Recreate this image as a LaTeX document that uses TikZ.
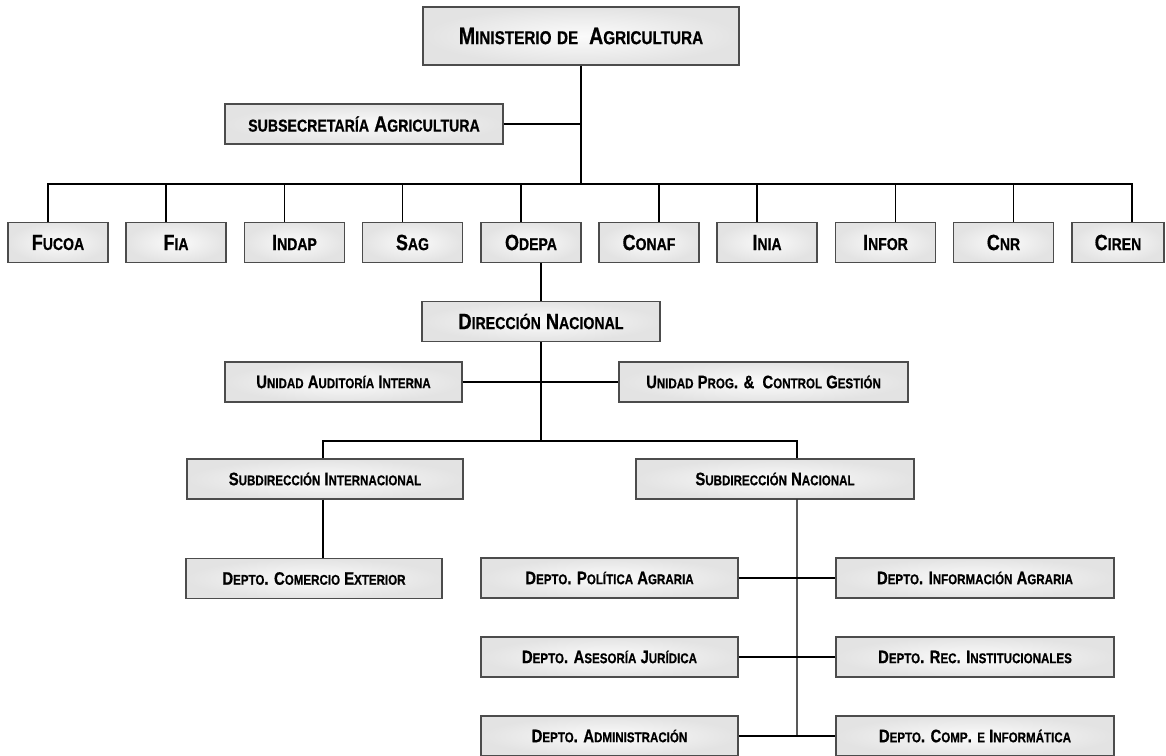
\documentclass[tikz,border=0pt]{standalone}
\usepackage{fontspec}
\usepackage{graphicx}
\newfontfamily\orgfont[FakeStretch=0.82, FakeBold=0.6]{Liberation Sans Bold}
\newcommand\lc[1]{\scalebox{0.78}{#1}}

\begin{document}
\begin{tikzpicture}[x=0.02cm, y=-0.02cm,
  every node/.style={draw=black!70, line width=0.7pt, shade, inner color=gray!3, outer color=gray!22,
    inner sep=0pt, minimum height=0.8cm, font=\orgfont\fontsize{10.3}{12}\selectfont},
  top/.style={font=\orgfont\fontsize{12.6}{14}\selectfont},
  agency/.style={minimum width=2cm, font=\orgfont\fontsize{12.5}{14}\selectfont},
  link/.style={line width=0.8pt}]
\useasboundingbox (0,0) rectangle (1166,755);

% ministerio
\node[top, font=\orgfont\fontsize{13.6}{15}\selectfont, minimum width=6.32cm, minimum height=1.16cm] (min) at (581,36) {M\lc{INISTERIO} \lc{DE}\ \ A\lc{GRICULTURA}};
\node[top, minimum width=5.56cm] (subsec) at (364,124) {\lc{SUBSECRETARÍA} A\lc{GRICULTURA}};

% servicios
\node[agency] (fucoa) at (58,242.5) {F\lc{UCOA}};
\node[agency] (fia) at (176,242.5) {F\lc{IA}};
\node[agency] (indap) at (294.5,242.5) {I\lc{NDAP}};
\node[agency] (sag) at (412.5,242.5) {S\lc{AG}};
\node[agency] (odepa) at (531,242.5) {O\lc{DEPA}};
\node[agency] (conaf) at (649,242.5) {C\lc{ONAF}};
\node[agency] (inia) at (767,242.5) {I\lc{NIA}};
\node[agency] (infor) at (885.5,242.5) {I\lc{NFOR}};
\node[agency] (cnr) at (1003.5,242.5) {C\lc{NR}};
\node[agency, minimum width=1.84cm] (ciren) at (1118,242.5) {C\lc{IREN}};

% odepa
\node[top, minimum width=4.76cm] (dirnac) at (541,321.5) {D\lc{IRECCIÓN} N\lc{ACIONAL}};
\node[minimum width=4.74cm] (audit) at (343.5,382) {U\lc{NIDAD} A\lc{UDITORÍA} I\lc{NTERNA}};
\node[minimum width=5.78cm] (progc) at (763.5,382) {U\lc{NIDAD} P\lc{ROG}. \&\ \ C\lc{ONTROL} G\lc{ESTIÓN}};
\node[minimum width=5.52cm] (subint) at (325,479) {S\lc{UBDIRECCIÓN} I\lc{NTERNACIONAL}};
\node[minimum width=5.56cm] (subnac) at (775,479) {S\lc{UBDIRECCIÓN} N\lc{ACIONAL}};
\node[minimum width=5.12cm] (comex) at (314,578.5) {D\lc{EPTO}. C\lc{OMERCIO} E\lc{XTERIOR}};

\node[minimum width=5.14cm] (polit) at (609.5,578) {D\lc{EPTO}. P\lc{OLÍTICA} A\lc{GRARIA}};
\node[minimum width=5.56cm] (infoag) at (975,578) {D\lc{EPTO}. I\lc{NFORMACIÓN} A\lc{GRARIA}};
\node[minimum width=5.14cm] (asesor) at (609.5,657) {D\lc{EPTO}. A\lc{SESORÍA} J\lc{URÍDICA}};
\node[minimum width=5.56cm] (recinst) at (975,657) {D\lc{EPTO}. R\lc{EC}. I\lc{NSTITUCIONALES}};
\node[minimum width=5.14cm] (admin) at (609.5,736) {D\lc{EPTO}. A\lc{DMINISTRACIÓN}};
\node[minimum width=5.56cm] (compinf) at (975,736) {D\lc{EPTO}. C\lc{OMP}. \lc{E} I\lc{NFORMÁTICA}};

% lineas
\coordinate (bus) at (581,184);
\coordinate (bus2) at (541,441);
\coordinate (spine) at (797,736);
\draw[link] (min.south) -- (bus);
\draw[link] (subsec.east) -- (subsec.east -| min.south);
\draw[link] ([xshift=-0.2cm]fucoa.north) |- (bus) -| ([xshift=0.28cm]ciren.north);
\draw[link] ([xshift=-0.2cm]fia.north) -- ([xshift=-0.2cm]fia.north |- bus);
\draw[link] ([xshift=-0.2cm]indap.north) -- ([xshift=-0.2cm]indap.north |- bus);
\draw[link] ([xshift=-0.2cm]sag.north) -- ([xshift=-0.2cm]sag.north |- bus);
\draw[link] ([xshift=-0.2cm]odepa.north) -- ([xshift=-0.2cm]odepa.north |- bus);
\draw[link] ([xshift=0.2cm]conaf.north) -- ([xshift=0.2cm]conaf.north |- bus);
\draw[link] ([xshift=-0.2cm]inia.north) -- ([xshift=-0.2cm]inia.north |- bus);
\draw[link] ([xshift=0.2cm]infor.north) -- ([xshift=0.2cm]infor.north |- bus);
\draw[link] ([xshift=0.2cm]cnr.north) -- ([xshift=0.2cm]cnr.north |- bus);

\draw[link] (dirnac.north) -- (dirnac.north |- odepa.south);
\draw[link] (audit.east) -- (progc.west);
\draw[link] (dirnac.south) -- (bus2);
\draw[link] ([xshift=-0.04cm]subint.north) |- (bus2) -| ([xshift=0.44cm]subnac.north);
\draw[link] ([xshift=-0.04cm]subint.south) -- ([xshift=-0.04cm]subint.south |- comex.north);
\draw[link] ([xshift=0.44cm]subnac.south) -- (spine);
\draw[link] (polit.east) -- (infoag.west);
\draw[link] (asesor.east) -- (recinst.west);
\draw[link] (admin.east) -- (compinf.west);
\end{tikzpicture}
\end{document}
